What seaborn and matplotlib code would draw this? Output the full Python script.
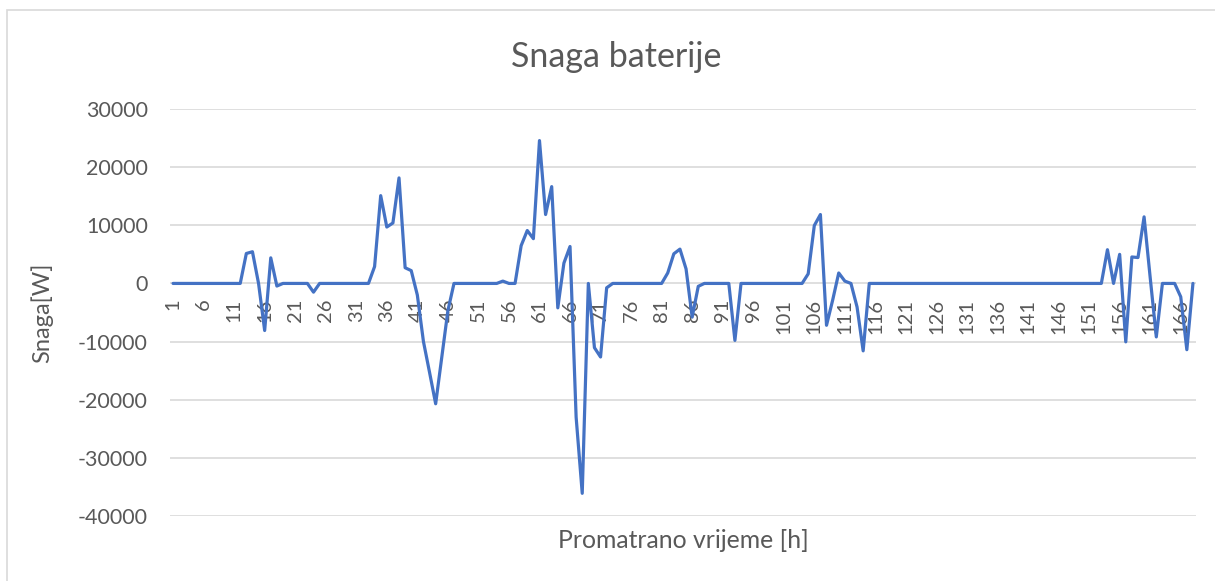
import matplotlib
matplotlib.use("Agg")
import matplotlib.pyplot as plt
import matplotlib.patches as patches
import pandas as pd
import seaborn as sns

# battery power per hour (W), 12 values per row
hours = list(range(1, 169))
power = [
    0, 0, 0, 0, 0, 0, 0, 0, 0, 0, 0, 0,
    5150, 5450, 0, -8100, 4400, -450, 0, 0, 0, 0, 0, -1500,
    0, 0, 0, 0, 0, 0, 0, 0, 0, 2900, 15100, 9700,
    10400, 18150, 2700, 2200, -2000, -10000, -15300, -20700, -12700, -4700, 0, 0,
    0, 0, 0, 0, 0, 0, 400, 0, 0, 6500, 9100, 7700,
    24570, 11850, 16650, -4200, 3500, 6350, -23000, -36100, 0, -11050, -12650, -750,
    0, 0, 0, 0, 0, 0, 0, 0, 0, 1800, 5100, 5900,
    2500, -5800, -500, 0, 0, 0, 0, 0, -9800, 0, 0, 0,
    0, 0, 0, 0, 0, 0, 0, 0, 1650, 9950, 11850, -7200,
    -2900, 1800, 400, 0, -4050, -11600, 0, 0, 0, 0, 0, 0,
    0, 0, 0, 0, 0, 0, 0, 0, 0, 0, 0, 0,
    0, 0, 0, 0, 0, 0, 0, 0, 0, 0, 0, 0,
    0, 0, 0, 0, 0, 0, 0, 0, 0, 5800, 0, 5000,
    -10050, 4550, 4450, 11450, 1000, -9200, 0, 0, 0, -2300, -11400, 0,
]
x_ticks = list(range(1, 169, 5))
y_ticks = [-40000, -30000, -20000, -10000, 0, 10000, 20000, 30000]

title = "Snaga baterije"
x_label = "Promatrano vrijeme [h]"
y_label = "Snaga[W]"

df = pd.DataFrame({"sat": hours, "snaga": power})

sns.set_style("white")
plt.rcParams["font.family"] = ["Lato", "DejaVu Sans"]
text_col = "#595959"

fig = plt.figure(figsize=(12.15, 5.81), dpi=100)
ax = fig.add_axes([170 / 1215, 1 - 516 / 581, 1026 / 1215, 407 / 581])

sns.lineplot(data=df, x="sat", y="snaga", ax=ax, color="#4472C4", linewidth=2.3)

# x axis crosses at zero, like the Excel original
for s in ["top", "right", "left"]:
    ax.spines[s].set_visible(False)
ax.spines["bottom"].set_position(("data", 0))
ax.spines["bottom"].set_visible(False)

ax.set_xlim(0.5, 168.5)
ax.set_ylim(-40000, 30000)
ax.set_yticks(y_ticks)
ax.set_yticklabels([str(v) for v in y_ticks])
ax.set_xticks(x_ticks)
ax.set_xticklabels([str(v) for v in x_ticks])
ax.grid(axis="y", color="#D9D9D9", linewidth=1.2)
ax.set_axisbelow(True)

ax.tick_params(axis="y", length=0, pad=16, labelsize=15.5, labelcolor=text_col)
ax.tick_params(axis="x", length=0, pad=11, labelsize=14.5, labelcolor=text_col,
               labelrotation=90)

ax.set_xlabel("")
ax.set_ylabel("")
fig.text(683 / 1215, 1 - 540 / 581, x_label, ha="center", va="center",
         fontsize=17.8, color=text_col)
fig.text(42 / 1215, 1 - 313 / 581, y_label, ha="center", va="center",
         rotation=90, fontsize=17, color=text_col)
fig.text(616 / 1215, 1 - 57 / 581, title, ha="center", va="center",
         fontsize=24.5, color=text_col)

# light chart-area border like the original
fig.patches.append(patches.Rectangle((7 / 1215, -0.1), 1.2, 1 - 10 / 581 + 0.1,
                                     transform=fig.transFigure, fill=False,
                                     edgecolor="#D9D9D9", linewidth=1.2))

fig.savefig("out.png", dpi=100)
plt.close(fig)
